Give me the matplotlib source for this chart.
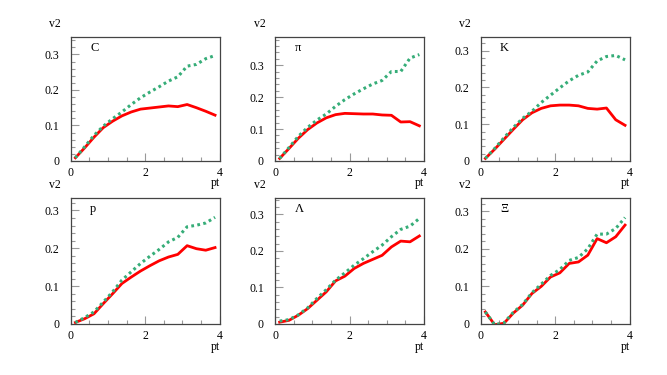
import matplotlib
matplotlib.use("Agg")
import matplotlib.pyplot as plt
from matplotlib.ticker import MultipleLocator, FuncFormatter

plt.rcParams['font.family'] = ['Liberation Serif', 'DejaVu Serif']

# pt bin centres (same for all panels)
pt = [0.125, 0.375, 0.625, 0.875, 1.125, 1.375, 1.625, 1.875,
      2.125, 2.375, 2.625, 2.875, 3.125, 3.375, 3.625, 3.875]

names = ['C', 'π', 'K', 'p', 'Λ', 'Ξ']

# red solid curves
red_C = [0.009, 0.037, 0.067, 0.094, 0.112, 0.127, 0.138, 0.146,
         0.149, 0.152, 0.155, 0.153, 0.159, 0.150, 0.140, 0.129]
red_pi = [0.008, 0.039, 0.071, 0.098, 0.119, 0.135, 0.145, 0.149,
          0.148, 0.147, 0.147, 0.144, 0.143, 0.122, 0.123, 0.110]
red_K = [0.007, 0.032, 0.059, 0.086, 0.112, 0.131, 0.143, 0.150,
         0.152, 0.152, 0.150, 0.143, 0.141, 0.144, 0.112, 0.097]
red_p = [0.004, 0.014, 0.027, 0.054, 0.080, 0.107, 0.124, 0.140,
         0.154, 0.167, 0.177, 0.184, 0.207, 0.199, 0.195, 0.202]
red_L = [0.005, 0.010, 0.024, 0.042, 0.065, 0.088, 0.118, 0.131,
         0.152, 0.166, 0.177, 0.188, 0.211, 0.227, 0.225, 0.241]
red_X = [0.032, -0.002, 0.002, 0.029, 0.050, 0.081, 0.100, 0.125,
         0.136, 0.161, 0.165, 0.183, 0.227, 0.216, 0.232, 0.263]

# green dotted curves
green_C = [0.009, 0.040, 0.072, 0.098, 0.119, 0.138, 0.159, 0.178,
           0.194, 0.209, 0.225, 0.237, 0.267, 0.272, 0.288, 0.297]
green_pi = [0.008, 0.042, 0.077, 0.105, 0.128, 0.147, 0.171, 0.192,
            0.210, 0.226, 0.241, 0.252, 0.280, 0.280, 0.322, 0.333]
green_K = [0.007, 0.034, 0.063, 0.091, 0.116, 0.135, 0.159, 0.179,
           0.199, 0.218, 0.233, 0.242, 0.272, 0.284, 0.287, 0.275]
green_p = [0.004, 0.017, 0.032, 0.058, 0.085, 0.116, 0.138, 0.160,
           0.179, 0.197, 0.217, 0.229, 0.257, 0.261, 0.267, 0.282]
green_L = [0.008, 0.012, 0.025, 0.044, 0.070, 0.094, 0.120, 0.140,
           0.161, 0.179, 0.198, 0.216, 0.239, 0.259, 0.268, 0.289]
green_X = [0.032, -0.002, 0.003, 0.031, 0.052, 0.083, 0.106, 0.129,
           0.145, 0.169, 0.177, 0.200, 0.239, 0.239, 0.254, 0.283]

reds = [red_C, red_pi, red_K, red_p, red_L, red_X]
greens = [green_C, green_pi, green_K, green_p, green_L, green_X]

# y axis upper limits per panel
ymax = [0.35, 0.389, 0.338, 0.333, 0.345, 0.335]

fig = plt.figure(figsize=(6.67, 3.75), dpi=100)

lefts = [0.106, 0.4123, 0.7207]
bottoms = [0.5707, 0.136]
heights = [0.3315, 0.336]
width = 0.2234

def ylab(v, pos):
    if abs(v) < 1e-9:
        return '0'
    return '%.1f' % v

for i in range(6):
    r, c = i // 3, i % 3
    ax = fig.add_axes([lefts[c], bottoms[r], width, heights[r]])
    ax.plot(pt, reds[i], color='#ff0000', lw=2.0, zorder=2)
    ax.plot(pt, greens[i], color='#36ad78', lw=2.2,
            linestyle=(0, (0.9, 1.1)), zorder=3)
    ax.set_xlim(0, 4)
    ax.set_ylim(0, ymax[i])

    ax.xaxis.set_major_locator(MultipleLocator(2))
    ax.xaxis.set_minor_locator(MultipleLocator(0.5))
    ax.yaxis.set_major_locator(MultipleLocator(0.1))
    ax.yaxis.set_minor_locator(MultipleLocator(0.02))
    ax.yaxis.set_major_formatter(FuncFormatter(ylab))
    ax.tick_params(which='both', direction='in', color='#999999',
                   width=0.8, labelsize=8.5, top=False, right=False)
    ax.tick_params(which='major', length=6)
    ax.tick_params(which='minor', length=3)
    ax.tick_params(axis='y', pad=8)
    ax.tick_params(axis='x', pad=4)
    for s in ax.spines.values():
        s.set_color('#444444')
        s.set_linewidth(0.9)

    ax.text(0.13, 0.91, names[i], transform=ax.transAxes,
            ha='left', va='center', fontsize=9)
    ax.text(-0.065, 1.10, 'v2', transform=ax.transAxes,
            ha='right', va='center', fontsize=8.5)
    ax.text(1.0, -0.18, 'pt', transform=ax.transAxes,
            ha='right', va='center', fontsize=8.5)

fig.savefig('out.png', dpi=100)
